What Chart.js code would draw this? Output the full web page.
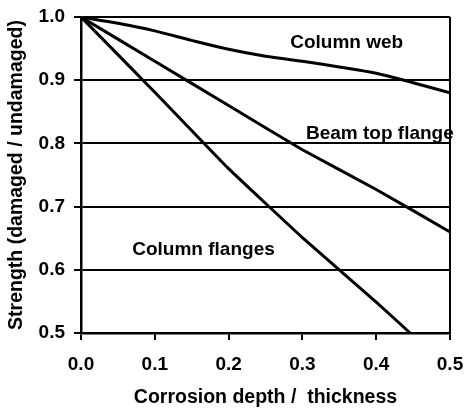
<!DOCTYPE html>
<html>
<head>
<meta charset="utf-8">
<script src="https://cdn.jsdelivr.net/npm/chart.js@4"></script>
<style>
  html, body { margin: 0; padding: 0; background: #fff; }
  #wrap { width: 465px; height: 410px; }
</style>
</head>
<body>
<div id="wrap"><canvas id="myChart" width="465" height="410"></canvas></div>
<script>
// corrosion depth / thickness
var depthWeb = [0, 0.05, 0.1, 0.15, 0.2, 0.25, 0.3, 0.35, 0.4, 0.45, 0.5];
var depthBeam = [0, 0.1, 0.2, 0.3, 0.4, 0.5];
var depthFlanges = [0, 0.1, 0.2, 0.3, 0.4, 0.446];

// strength ratios
var columnWeb = [1.0, 0.99, 0.978, 0.963, 0.949, 0.938, 0.93, 0.921, 0.911, 0.896, 0.88];
var beamTopFlange = [1.0, 0.93, 0.86, 0.79, 0.727, 0.66];
var columnFlanges = [1.0, 0.881, 0.76, 0.651, 0.549, 0.5];

var curveNames = ['Column web', 'Beam top flange', 'Column flanges'];
var labelX = [0.36, 0.405, 0.166];
var labelY = [0.96, 0.816, 0.631];

function toPoints(xs, ys) {
  var pts = [];
  for (let i = 0; i < xs.length; i++) {
    pts.push({ x: xs[i], y: ys[i] });
  }
  return pts;
}

function makeSet(name, xs, ys, tension) {
  return {
    label: name,
    data: toPoints(xs, ys),
    showLine: true,
    borderColor: '#000',
    borderWidth: 3,
    pointRadius: 0,
    tension: tension
  };
}

// draws the curve names inside the plot
var curveLabels = {
  id: 'curveLabels',
  afterDatasetsDraw: function(chart) {
    var ctx = chart.ctx;
    var xs = chart.scales.x, ys = chart.scales.y;
    ctx.save();
    ctx.fillStyle = '#000';
    ctx.font = 'bold 19px "Liberation Sans", Arial, sans-serif';
    ctx.textAlign = 'center';
    ctx.textBaseline = 'middle';
    for (let i = 0; i < curveNames.length; i++) {
      ctx.fillText(curveNames[i], xs.getPixelForValue(labelX[i]), ys.getPixelForValue(labelY[i]));
    }
    ctx.restore();
  }
};

var fam = '"Liberation Sans", Arial, sans-serif';
var tickFont = { family: fam, weight: 'bold', size: 19 };
var titleFont = { family: fam, weight: 'bold', size: 19.5 };

var ctx = document.getElementById('myChart').getContext('2d');
var myChart = new Chart(ctx, {
  type: 'scatter',
  data: {
    datasets: [
      makeSet(curveNames[0], depthWeb, columnWeb, 0.3),
      makeSet(curveNames[1], depthBeam, beamTopFlange, 0.1),
      makeSet(curveNames[2], depthFlanges, columnFlanges, 0.1)
    ]
  },
  plugins: [curveLabels],
  options: {
    responsive: false,
    animation: false,
    layout: { padding: { left: 0, right: 15, top: 17, bottom: 0 } },
    plugins: {
      legend: { display: false },
      tooltip: { enabled: false }
    },
    scales: {
      x: {
        type: 'linear',
        min: 0,
        max: 0.5,
        afterFit: function(scale) {
          scale.height = 77;
          scale.paddingLeft = 0;
          scale.paddingRight = 0;
        },
        ticks: {
          stepSize: 0.1,
          color: '#000',
          font: tickFont,
          padding: 13,
          maxRotation: 0,
          callback: function(v) { return v.toFixed(1); }
        },
        grid: {
          color: function(c) { return c.tick && c.tick.value === 0.5 ? '#000' : 'rgba(0,0,0,0)'; },
          tickColor: '#000',
          lineWidth: 2,
          tickLength: 7
        },
        border: { color: '#000', width: 2.5 },
        title: {
          display: true,
          text: 'Corrosion depth /  thickness',
          color: '#000',
          font: titleFont,
          padding: { top: 0, bottom: 1 }
        }
      },
      y: {
        min: 0.5,
        max: 1.0,
        afterFit: function(scale) {
          scale.width = 81;
          scale.paddingTop = 0;
          scale.paddingBottom = 0;
        },
        ticks: {
          stepSize: 0.1,
          color: '#000',
          font: tickFont,
          padding: 9,
          callback: function(v) { return v.toFixed(1); }
        },
        grid: {
          color: '#000',
          tickColor: '#000',
          lineWidth: 2,
          tickLength: 7
        },
        border: { color: '#000', width: 2.5 },
        title: {
          display: true,
          text: 'Strength (damaged / undamaged)',
          color: '#000',
          font: titleFont,
          padding: { top: 5, bottom: 0 }
        }
      }
    }
  }
});
</script>
</body>
</html>
